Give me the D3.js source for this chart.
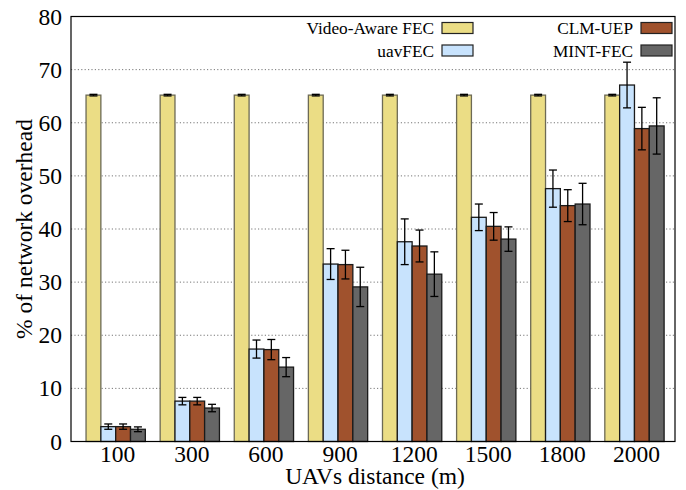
<!DOCTYPE html>
<html>
<head>
<meta charset="utf-8">
<script src="https://cdn.jsdelivr.net/npm/d3@7"></script>
<style>
  html, body { margin: 0; padding: 0; background: #fff; }
</style>
</head>
<body>
<svg id="chart" width="686" height="490"></svg>
<script>
// Distances (m) on the x axis
const categories = ["100", "300", "600", "900", "1200", "1500", "1800", "2000"];

// Mechanisms shown in each cluster, in drawing order
const seriesNames = ["Video-Aware FEC", "uavFEC", "CLM-UEP", "MINT-FEC"];
const seriesColors = ["#ebdd85", "#c8e3fd", "#a0522d", "#666666"];

// Mean network overhead (%) per distance
const videoAwareValues = [65.2, 65.2, 65.2, 65.2, 65.2, 65.2, 65.2, 65.2];
const uavFecValues     = [2.8, 7.6, 17.4, 33.4, 37.6, 42.2, 47.6, 67.1];
const clmUepValues     = [2.8, 7.6, 17.3, 33.3, 36.8, 40.5, 44.4, 58.9];
const mintFecValues    = [2.3, 6.3, 14.0, 29.1, 31.5, 38.1, 44.7, 59.4];

// Half-width of the error bars (%)
const videoAwareErr = [0.15, 0.15, 0.15, 0.15, 0.15, 0.15, 0.15, 0.15];
const uavFecErr     = [0.5, 0.7, 1.7, 2.9, 4.3, 2.5, 3.5, 4.3];
const clmUepErr     = [0.5, 0.7, 1.9, 2.7, 3.0, 2.6, 3.0, 4.0];
const mintFecErr    = [0.45, 0.7, 1.8, 3.7, 4.2, 2.3, 3.9, 5.3];

const yTicks = [0, 10, 20, 30, 40, 50, 60, 70, 80];

const FONT = "'Liberation Serif', 'Times New Roman', Times, serif";
const AXIS_FONT_SIZE = "23.5px";

const allValues = [videoAwareValues, uavFecValues, clmUepValues, mintFecValues];
const allErrors = [videoAwareErr, uavFecErr, clmUepErr, mintFecErr];

const rows = [];
categories.forEach((c, i) => {
  seriesNames.forEach((s, j) => {
    rows.push({ cat: c, series: s, value: allValues[j][i], err: allErrors[j][i], color: seriesColors[j] });
  });
});

const svg = d3.select("#chart");
const plot = { left: 71, right: 675, top: 16.5, bottom: 441.5 };

const x0 = d3.scaleBand()
  .domain(categories)
  .range([plot.left, plot.right])
  .paddingInner(0.2)
  .paddingOuter(0.175)
  .align(0.58);

const x1 = d3.scaleBand()
  .domain(seriesNames)
  .range([0, x0.bandwidth()])
  .padding(0);

const y = d3.scaleLinear().domain([0, 80]).range([plot.bottom, plot.top]);

// Dotted horizontal grid
svg.append("g")
  .selectAll("line")
  .data(yTicks.filter(t => t > 0 && t < 80))
  .join("line")
  .attr("x1", plot.left).attr("x2", plot.right)
  .attr("y1", d => y(d)).attr("y2", d => y(d))
  .attr("stroke", "#777")
  .attr("stroke-width", 1)
  .attr("stroke-dasharray", "1.2,2.2");

// Bars
svg.append("g")
  .selectAll("rect")
  .data(rows)
  .join("rect")
  .attr("x", d => x0(d.cat) + x1(d.series))
  .attr("y", d => y(d.value))
  .attr("width", x1.bandwidth())
  .attr("height", d => y(0) - y(d.value))
  .attr("fill", d => d.color)
  .attr("stroke", d => d.series === "Video-Aware FEC" ? "#6d6a55" : "#1a1a1a")
  .attr("stroke-width", 1.3);

// Error bars
const errG = svg.append("g").attr("stroke", "#000").attr("stroke-width", 1.3);
const cap = 4;
rows.forEach(d => {
  const cx = x0(d.cat) + x1(d.series) + x1.bandwidth() / 2;
  const yHi = y(d.value + d.err), yLo = y(d.value - d.err);
  errG.append("line").attr("x1", cx).attr("x2", cx).attr("y1", yHi).attr("y2", yLo);
  errG.append("line").attr("x1", cx - cap).attr("x2", cx + cap).attr("y1", yHi).attr("y2", yHi);
  errG.append("line").attr("x1", cx - cap).attr("x2", cx + cap).attr("y1", yLo).attr("y2", yLo);
});

// Frame
svg.append("rect")
  .attr("x", plot.left).attr("y", plot.top)
  .attr("width", plot.right - plot.left).attr("height", plot.bottom - plot.top)
  .attr("fill", "none").attr("stroke", "#000").attr("stroke-width", 1.2);

// Y axis
const yAxis = d3.axisLeft(y).tickValues(yTicks).tickSize(0).tickPadding(9);
const yg = svg.append("g").attr("transform", `translate(${plot.left},0)`).call(yAxis);
yg.attr("font-family", null).attr("font-size", null);
yg.select(".domain").remove();
yg.selectAll("text").style("font-family", FONT).style("font-size", AXIS_FONT_SIZE).style("fill", "#000");

// X axis
const xAxis = d3.axisBottom(x0).tickSize(0).tickPadding(4);
const xg = svg.append("g").attr("transform", `translate(0,${plot.bottom})`).call(xAxis);
xg.attr("font-family", null).attr("font-size", null);
xg.select(".domain").remove();
xg.selectAll("text")
  .attr("transform", "translate(2,0)")
  .style("font-family", FONT).style("font-size", AXIS_FONT_SIZE).style("fill", "#000");

// Axis titles
svg.append("text")
  .attr("x", (plot.left + plot.right) / 2 + 2)
  .attr("y", 484)
  .attr("text-anchor", "middle")
  .style("font-family", FONT)
  .style("font-size", AXIS_FONT_SIZE)
  .text("UAVs distance (m)");

svg.append("text")
  .attr("transform", `translate(32,${(plot.top + plot.bottom) / 2}) rotate(-90)`)
  .attr("text-anchor", "middle")
  .style("font-family", FONT)
  .style("font-size", AXIS_FONT_SIZE)
  .text("% of network overhead");

// Legend: two columns, text right-aligned to the swatch
const legendItems = seriesNames.map((s, j) => ({ name: s, color: seriesColors[j] }));
const legendPos = [
  { tx: 434, sx: 442, y: 28 },
  { tx: 434, sx: 442, y: 50.5 },
  { tx: 633, sx: 641, y: 28 },
  { tx: 633, sx: 641, y: 50.5 }
];
const legend = svg.append("g");
legendItems.forEach((d, j) => {
  const p = legendPos[j];
  legend.append("text")
    .attr("x", p.tx).attr("y", p.y)
    .attr("dy", "0.35em")
    .attr("text-anchor", "end")
    .style("font-family", FONT)
    .style("font-size", "17.3px")
    .text(d.name);
  legend.append("rect")
    .attr("x", p.sx).attr("y", p.y - 5.5)
    .attr("width", 31).attr("height", 11)
    .attr("fill", d.color)
    .attr("stroke", "#222").attr("stroke-width", 1.2);
});
</script>
</body>
</html>
